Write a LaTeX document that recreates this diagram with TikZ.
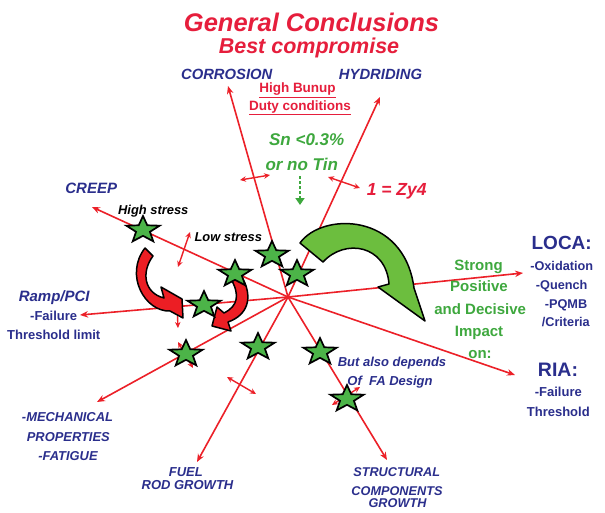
\documentclass[tikz,border=0pt]{standalone}
\usepackage{fontspec}
\setmainfont{Liberation Sans}
\usetikzlibrary{shapes.geometric,arrows.meta}
\definecolor{tred}{RGB}{230,30,60}
\definecolor{lred}{RGB}{236,32,40}
\definecolor{tblue}{RGB}{42,46,140}
\definecolor{tgreen}{RGB}{62,168,62}
\definecolor{sgreen}{RGB}{76,180,72}
\definecolor{agreen}{RGB}{108,190,62}
\definecolor{afill}{RGB}{236,30,36}
\newcommand{\fsz}[1]{\fontsize{#1}{#1}\selectfont}
\tikzset{
  ray/.style={draw=lred, line width=1.6pt, -{Stealth[length=8pt,width=6.5pt]}},
  dbl/.style={draw=lred, line width=1.4pt, {Stealth[length=6pt,width=5.5pt]}-{Stealth[length=6pt,width=5.5pt]}},
  gstar/.style={star, star points=5, star point ratio=2.4, minimum size=28pt, inner sep=0pt, draw=black, line width=1.7pt, fill=sgreen, transform shape, xscale=1.25},
  bigarrow/.style={draw=black, line width=1.5pt, line join=round},
  txt/.style={anchor=base, inner sep=0pt, outer sep=0pt},
  bluei/.style={txt, text=tblue, font=\fsz{#1}\bfseries\itshape},
  blueu/.style={txt, text=tblue, font=\fsz{#1}\bfseries},
  greeni/.style={txt, text=tgreen, font=\fsz{#1}\bfseries\itshape},
  greenu/.style={txt, text=tgreen, font=\fsz{#1}\bfseries},
  redi/.style={txt, text=tred, font=\fsz{#1}\bfseries\itshape},
  redu/.style={txt, text=tred, font=\fsz{#1}\bfseries},
  blacki/.style={txt, text=black, font=\fsz{#1}\bfseries\itshape},
}
\begin{document}
\begin{tikzpicture}[x=1pt,y=-1pt]
\useasboundingbox (0,0) rectangle (605,512);
\fill[white] (0,0) rectangle (605,512);

% centre and ray ends
\coordinate (C) at (288,297);
\coordinate (tCor) at (228,86);
\coordinate (tHyd) at (380,97);
\coordinate (tCreep) at (92,207);
\coordinate (tRamp) at (80,315);
\coordinate (tMech) at (97,402);
\coordinate (tFuel) at (197,462);
\coordinate (tStr) at (387,460);
\coordinate (tRIA) at (515,375);
\coordinate (tLOCA) at (523,273);

\foreach \t in {tCor,tHyd,tCreep,tRamp,tMech,tFuel,tStr,tRIA,tLOCA}
  \draw[ray] (C) -- (\t);

% small double arrows
\coordinate (d1a) at (240,180); \coordinate (d1b) at (270,175);
\coordinate (d2a) at (328,177); \coordinate (d2b) at (360,188);
\coordinate (d3a) at (190,232); \coordinate (d3b) at (178,267);
\coordinate (d4a) at (177,304); \coordinate (d4b) at (178,328);
\coordinate (d5a) at (178,342); \coordinate (d5b) at (193,368);
\coordinate (d6a) at (227,377); \coordinate (d6b) at (256,394);
\coordinate (d7a) at (332,405); \coordinate (d7b) at (360,387);
\draw[dbl] (d1a) -- (d1b);
\draw[dbl] (d2a) -- (d2b);
\draw[dbl] (d3a) -- (d3b);
\draw[dbl] (d4a) -- (d4b);
\draw[dbl] (d5a) -- (d5b);
\draw[dbl] (d6a) -- (d6b);
\draw[dbl] (d7a) -- (d7b);

% green dotted arrow
\coordinate (gA) at (300,176);
\coordinate (gB) at (300,205);
\draw[draw=tgreen, line width=2.6pt, dash pattern=on 3pt off 2pt, -{Triangle[length=7pt,width=9pt]}] (gA) -- (gB);

% red curved arrows
\filldraw[bigarrow, fill=afill]
  (145,248) -- (153,256) .. controls (141,272) and (144,293) .. (164,298)
  -- (161,287) -- (182,299) -- (183,318) -- (170,311)
  .. controls (145,312) and (124,275) .. (145,248) -- cycle;
\filldraw[bigarrow, fill=afill]
  (231,279) -- (244,281) .. controls (252,298) and (248,315) .. (228,322)
  -- (231,331) -- (212,326) -- (217,307) -- (224,313)
  .. controls (238,306) and (240,295) .. (231,279) -- cycle;

% green curved arrow
\filldraw[bigarrow, fill=agreen]
  (300,243) .. controls (322,212) and (404,212) .. (414,288)
  -- (425,321) -- (378,287) -- (389,284)
  .. controls (386,245) and (345,238) .. (323,262) -- cycle;

% stars
\node[gstar] (s1) at (143,230) {};
\node[gstar] (s2) at (235,274) {};
\node[gstar] (s3) at (204,305) {};
\node[gstar] (s4) at (272,255) {};
\node[gstar] (s5) at (297,274) {};
\node[gstar] (s6) at (186,354) {};
\node[gstar] (s7) at (258,347) {};
\node[gstar] (s8) at (320,352) {};
\node[gstar] (s9) at (347,399) {};

% texts
\node[redi=25.5] (title) at (311.5,31.7) {General Conclusions};
\node[redi=21.5] (sub) at (309,53) {Best compromise};
\node[bluei=14.8] (cor) at (226.7,79) {CORROSION};
\node[bluei=14.8] (hyd) at (380.5,79) {HYDRIDING};
\node[redu=13.5] (hb) at (297.5,92.7) {\underline{High Bunup}};
\node[redu=13.5] (duty) at (300,110) {\underline{Duty conditions}};
\node[greeni=17] (sn) at (306.7,145) {Sn <0.3\%};
\node[greeni=17] (tin) at (301.7,170) {or no Tin};
\node[redi=17.5] (zy) at (396.7,195) {1 = Zy4};
\node[bluei=15] (creep) at (91.2,193.3) {CREEP};
\node[blacki=12.9] (hs) at (153.3,214) {High stress};
\node[blacki=12.9] (ls) at (228.3,241.7) {Low stress};
\node[bluei=15] (ramp) at (54.2,301.7) {Ramp/PCI};
\node[blueu=13] (rf) at (53.7,320) {-Failure};
\node[blueu=13] (rt) at (53.7,339) {Threshold limit};
\node[greenu=15] (g1) at (478.5,270) {Strong};
\node[greenu=15] (g2) at (479,291.7) {Positive};
\node[greenu=15] (g3) at (480.2,314) {and Decisive};
\node[greenu=15] (g4) at (479,336.7) {Impact};
\node[greenu=15] (g5) at (480,358) {on:};
\node[blueu=19] (loca) at (561.7,249.3) {LOCA:};
\node[blueu=12.7] (l1) at (561.7,270) {-Oxidation};
\node[blueu=12.7] (l2) at (561.7,289.3) {-Quench};
\node[blueu=12.7] (l3) at (566,308.3) {-PQMB};
\node[blueu=12.7] (l4) at (565.8,326.7) {/Criteria};
\node[blueu=19.5] (ria) at (558,376.7) {RIA:};
\node[blueu=13] (r1) at (558.3,396.7) {-Failure};
\node[blueu=13] (r2) at (558.3,416.7) {Threshold};
\node[bluei=13] (fa1) at (392,366) {But also depends};
\node[bluei=13] (fa2) at (390,385) {Of\ \ FA Design};
\node[bluei=12.7] (st1) at (396.7,476) {STRUCTURAL};
\node[bluei=12.7] (st2) at (397,495) {COMPONENTS};
\node[bluei=12.7] (st3) at (397.5,507.7) {GROWTH};
\node[bluei=12.9] (m1) at (67.5,421.7) {-MECHANICAL};
\node[bluei=12.9] (m2) at (68.3,441) {PROPERTIES};
\node[bluei=12.9] (m3) at (68,460) {-FATIGUE};
\node[bluei=13] (f1) at (185.8,476) {FUEL};
\node[bluei=13] (f2) at (187.5,489.3) {ROD GROWTH};
\end{tikzpicture}
\end{document}
